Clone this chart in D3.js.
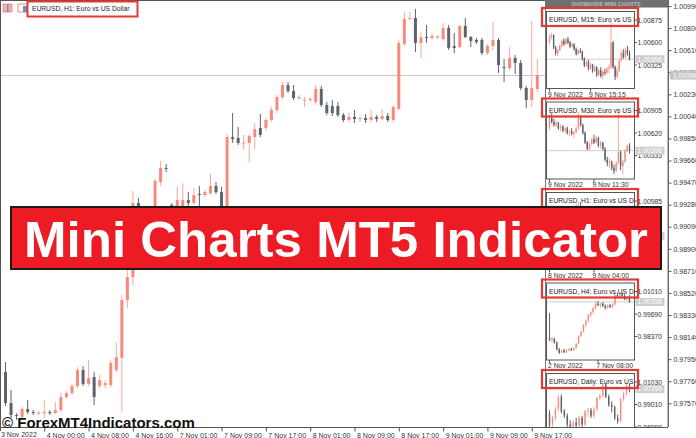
<!DOCTYPE html>
<html><head><meta charset="utf-8">
<script src="https://cdn.jsdelivr.net/npm/d3@7"></script>
<style>
html,body{margin:0;padding:0;background:#fff;overflow:hidden;}
svg{display:block;font-family:"Liberation Sans",Arial,sans-serif;}
</style></head><body>
<svg id="c" width="696" height="438"></svg>
<script>
// ---------- DATA ----------
const mainTitle = "EURUSD, H1:  Euro vs US Dollar";
const currentPrice = 1.00396;
// [open, high, low, close]
const mainCandles = [
[0.97839,0.97925,0.97546,0.97572],[0.97572,0.97684,0.97443,0.97469],[0.97469,0.97486,0.97426,0.97460],
[0.97452,0.97538,0.97434,0.97521],[0.97521,0.97598,0.97478,0.97495],[0.97495,0.97512,0.97469,0.97486],
[0.97486,0.97503,0.97469,0.97490],[0.97486,0.97598,0.97443,0.97495],[0.97495,0.97512,0.97469,0.97486],
[0.97486,0.97581,0.97478,0.97512],[0.97512,0.97658,0.97495,0.97624],[0.97624,0.97676,0.97607,0.97658],
[0.97658,0.97736,0.97641,0.97719],[0.97719,0.97882,0.97701,0.97856],[0.97856,0.97891,0.97719,0.97736],
[0.97736,0.97942,0.97719,0.97787],[0.97796,0.97839,0.97555,0.97624],[0.97719,0.97813,0.97701,0.97770],
[0.97727,0.97770,0.97701,0.97744],[0.97727,0.97942,0.97710,0.97917],[0.97856,0.98097,0.97839,0.97968],
[0.97960,0.98502,0.97495,0.98459],[0.98459,0.98717,0.98390,0.98657],[0.98657,0.99398,0.98588,0.99294],
[0.99294,0.99337,0.99131,0.99191],[0.99165,0.99251,0.99131,0.99217],[0.99199,0.99251,0.99148,0.99234],
[0.99217,0.99501,0.99182,0.99484],[0.99475,0.99656,0.99441,0.99596],[0.99596,0.99630,0.99561,0.99587],
[0.99277,0.99294,0.99148,0.99191],[0.99217,0.99432,0.99199,0.99320],[0.99234,0.99466,0.99217,0.99320],
[0.99320,0.99389,0.99268,0.99294],[0.99294,0.99423,0.99277,0.99363],[0.99372,0.99441,0.99260,0.99363],
[0.99363,0.99406,0.99346,0.99389],[0.99380,0.99544,0.99363,0.99441],[0.99441,0.99475,0.99372,0.99389],
[0.99389,0.99432,0.99191,0.99217],[0.99217,0.99888,0.99199,0.99862],[0.99862,1.00069,0.99811,0.99845],
[0.99854,0.99949,0.99794,0.99811],[0.99811,0.99880,0.99751,0.99815],[0.99811,0.99888,0.99647,0.99871],
[0.99862,0.99983,0.99759,0.99931],[0.99940,1.00060,0.99862,0.99880],[0.99940,1.00026,0.99923,1.00009],
[1.00009,1.00121,0.99992,1.00095],[1.00095,1.00224,1.00069,1.00207],[1.00207,1.00336,1.00190,1.00310],
[1.00310,1.00336,1.00241,1.00259],[1.00259,1.00310,1.00181,1.00198],[1.00198,1.00224,1.00181,1.00207],
[1.00181,1.00207,1.00121,1.00185],[1.00181,1.00207,1.00164,1.00190],[1.00164,1.00310,1.00138,1.00276],
[1.00276,1.00302,1.00121,1.00138],[1.00138,1.00164,1.00052,1.00069],[1.00129,1.00181,1.00043,1.00069],
[1.00129,1.00164,1.00035,1.00052],[1.00052,1.00069,0.99992,1.00009],[1.00009,1.00069,0.99992,1.00035],
[1.00035,1.00095,0.99983,1.00017],[1.00017,1.00043,0.99992,1.00026],[1.00026,1.00060,0.99983,1.00009],
[1.00009,1.00095,0.99992,1.00035],[1.00035,1.00052,0.99992,1.00017],[1.00017,1.00104,1.00009,1.00043],
[1.00043,1.00069,0.99992,1.00009],[1.00009,1.00138,0.99992,1.00121],[1.00104,1.00698,1.00095,1.00672],
[1.00663,1.00939,1.00646,1.00878],[1.00878,1.00939,1.00870,1.00887],[1.00887,1.00965,1.00594,1.00672],
[1.00672,1.00766,1.00543,1.00723],[1.00723,1.00827,1.00672,1.00715],[1.00715,1.00758,1.00698,1.00732],
[1.00723,1.00741,1.00706,1.00727],[1.00706,1.00844,1.00689,1.00801],[1.00801,1.00827,1.00612,1.00629],
[1.00646,1.00758,1.00586,1.00629],[1.00637,1.00827,1.00629,1.00818],[1.00818,1.00887,1.00715,1.00723],
[1.00723,1.00732,1.00637,1.00689],[1.00698,1.00715,1.00663,1.00680],[1.00698,1.00715,1.00568,1.00586],
[1.00586,1.00663,1.00568,1.00646],[1.00646,1.00853,1.00612,1.00698],[1.00698,1.00715,1.00414,1.00482],
[1.00465,1.00534,1.00336,1.00460],[1.00456,1.00637,1.00439,1.00543],[1.00543,1.00568,1.00405,1.00500],
[1.00500,1.00525,1.00267,1.00284],[1.00284,1.00302,1.00112,1.00181],[1.00181,1.00861,1.00121,1.00284],
[1.00276,1.00534,1.00250,1.00396]
];
const mainStartLabel = "3 Nov 2022";
const mainTickIndex = [7,15,23,31,39,47,55,63,71,79,87,95];
const mainTickLabels = ["4 Nov 00:00","4 Nov 08:00","4 Nov 16:00","7 Nov 01:00","7 Nov 09:00","7 Nov 17:00",
  "8 Nov 01:00","8 Nov 09:00","8 Nov 17:00","9 Nov 01:00","9 Nov 09:00","9 Nov 17:00"];
const mainPriceTicks = [1.00990,1.00800,1.00610,1.00420,1.00230,1.00040,0.99850,0.99660,0.99470,0.99280,
  0.99090,0.98900,0.98710,0.98520,0.98330,0.98140,0.97950,0.97760,0.97570];
const mainPriceDomain = [0.97366, 1.01042];

const m15Candles = [
[1.00600,1.00700,1.00580,1.00660],[1.00660,1.00720,1.00640,1.00690],[1.00690,1.00700,1.00520,1.00540],
[1.00540,1.00560,1.00440,1.00470],[1.00470,1.00520,1.00430,1.00500],[1.00500,1.00580,1.00490,1.00560],
[1.00560,1.00640,1.00540,1.00620],[1.00620,1.00650,1.00560,1.00580],[1.00580,1.00660,1.00570,1.00640],
[1.00640,1.00670,1.00580,1.00600],[1.00600,1.00620,1.00530,1.00550],[1.00550,1.00600,1.00540,1.00580],
[1.00580,1.00590,1.00500,1.00520],[1.00520,1.00540,1.00440,1.00460],[1.00460,1.00520,1.00450,1.00500],
[1.00500,1.00530,1.00470,1.00490],[1.00490,1.00500,1.00380,1.00400],[1.00400,1.00420,1.00300,1.00320],
[1.00320,1.00380,1.00300,1.00360],[1.00360,1.00390,1.00260,1.00280],[1.00280,1.00350,1.00270,1.00330],
[1.00330,1.00340,1.00230,1.00250],[1.00250,1.00320,1.00240,1.00300],[1.00300,1.00310,1.00180,1.00200],
[1.00200,1.00280,1.00190,1.00260],[1.00260,1.00300,1.00170,1.00190],[1.00190,1.00260,1.00150,1.00240],
[1.00240,1.00280,1.00200,1.00230],[1.00230,1.00300,1.00210,1.00280],[1.00280,1.00330,1.00220,1.00300],
[1.00300,1.00850,1.00280,1.00600],[1.00600,1.00620,1.00280,1.00300],[1.00300,1.00320,1.00140,1.00180],
[1.00180,1.00300,1.00160,1.00260],[1.00260,1.00400,1.00240,1.00380],[1.00380,1.00500,1.00360,1.00470],
[1.00470,1.00520,1.00400,1.00420],[1.00420,1.00540,1.00410,1.00510],[1.00510,1.00560,1.00440,1.00460],
[1.00460,1.00500,1.00380,1.00396]
];
const m30Candles = [
[1.00680,1.00860,1.00660,1.00840],[1.00840,1.00870,1.00740,1.00760],[1.00760,1.00800,1.00700,1.00720],
[1.00720,1.00780,1.00690,1.00750],[1.00750,1.00760,1.00660,1.00680],[1.00680,1.00730,1.00640,1.00700],
[1.00700,1.00720,1.00630,1.00650],[1.00650,1.00700,1.00620,1.00680],[1.00680,1.00700,1.00600,1.00620],
[1.00620,1.00660,1.00580,1.00640],[1.00640,1.00680,1.00590,1.00610],[1.00610,1.00640,1.00560,1.00630],
[1.00630,1.00700,1.00610,1.00680],[1.00680,1.00860,1.00660,1.00820],[1.00820,1.00840,1.00700,1.00720],
[1.00720,1.00740,1.00600,1.00620],[1.00620,1.00640,1.00480,1.00500],[1.00500,1.00520,1.00400,1.00420],
[1.00420,1.00500,1.00400,1.00480],[1.00480,1.00560,1.00460,1.00540],[1.00540,1.00600,1.00480,1.00500],
[1.00500,1.00580,1.00490,1.00560],[1.00560,1.00570,1.00440,1.00460],[1.00460,1.00520,1.00420,1.00500],
[1.00500,1.00510,1.00400,1.00420],[1.00420,1.00440,1.00260,1.00280],[1.00280,1.00320,1.00200,1.00240],
[1.00240,1.00300,1.00180,1.00260],[1.00260,1.00270,1.00150,1.00180],[1.00180,1.00220,1.00100,1.00140],
[1.00140,1.00260,1.00120,1.00240],[1.00240,1.00870,1.00220,1.00380],[1.00380,1.00400,1.00150,1.00200],
[1.00200,1.00280,1.00090,1.00260],[1.00260,1.00420,1.00240,1.00400],[1.00400,1.00480,1.00380,1.00460],
[1.00460,1.00490,1.00360,1.00396]
];
const h1MiniStart = 60; // H1 mini shows the latest bars of the main H1 series
const h4Candles = [
[0.98300,0.99750,0.98100,0.98150],[0.98150,0.98350,0.98000,0.98250],[0.98250,0.98300,0.97950,0.98000],
[0.98000,0.98100,0.97550,0.97600],[0.97600,0.97700,0.97350,0.97420],[0.97420,0.97600,0.97380,0.97550],
[0.97550,0.97650,0.97400,0.97450],[0.97450,0.97620,0.97400,0.97580],[0.97580,0.97680,0.97500,0.97620],
[0.97620,0.97700,0.97520,0.97560],[0.97560,0.97750,0.97520,0.97700],[0.97700,0.98000,0.97650,0.97950],
[0.97950,0.98450,0.97900,0.98400],[0.98400,0.98700,0.98350,0.98650],[0.98650,0.99100,0.98600,0.99050],
[0.99050,0.99350,0.98900,0.99300],[0.99300,0.99700,0.99200,0.99650],[0.99650,0.99850,0.99500,0.99800],
[0.99800,1.00100,0.99700,1.00050],[1.00050,1.00400,0.99950,1.00300],[1.00300,1.00450,1.00150,1.00200],
[1.00200,1.00350,1.00050,1.00300],[1.00300,1.00380,1.00100,1.00150],[1.00150,1.00250,0.99950,1.00050],
[1.00050,1.00250,1.00000,1.00200],[1.00200,1.00280,1.00050,1.00100],[1.00100,1.00300,1.00050,1.00250],
[1.00250,1.00900,1.00200,1.00800],[1.00800,1.00950,1.00650,1.00700],[1.00700,1.00900,1.00650,1.00850],
[1.00850,1.00950,1.00700,1.00750],[1.00750,1.00850,1.00500,1.00550],[1.00550,1.00750,1.00450,1.00700],
[1.00700,1.00800,1.00350,1.00396]
];
const d1Candles = [
[0.98200,0.98500,0.97000,0.97200],[0.97200,0.98000,0.97000,0.97800],[0.97800,0.98800,0.97600,0.98600],
[0.98600,0.99900,0.98400,0.99700],[0.99700,0.99900,0.98200,0.98400],[0.98400,0.98600,0.97800,0.98000],
[0.98000,0.98200,0.97000,0.97200],[0.97200,0.97600,0.96800,0.97000],[0.97000,0.97600,0.96800,0.97400],
[0.97400,0.97800,0.96900,0.97100],[0.97100,0.98000,0.96400,0.97800],[0.97800,0.98000,0.97000,0.97200],
[0.97200,0.98500,0.97100,0.98400],[0.98400,0.98700,0.97900,0.98500],[0.98500,0.98700,0.97800,0.98000],
[0.98000,0.98800,0.97800,0.98600],[0.98600,0.99700,0.98400,0.99600],[0.99600,1.00000,0.99400,0.99800],
[0.99800,1.00900,0.99600,1.00800],[1.00800,1.00900,0.99600,0.99700],[0.99700,0.99900,0.98800,0.99000],
[0.99000,0.99300,0.98300,0.98800],[0.98800,0.98900,0.97600,0.97800],[0.97800,0.98100,0.97300,0.97500],
[0.97500,0.99600,0.97400,0.99500],[0.99500,1.00200,0.99300,1.00000],[1.00000,1.00900,0.99800,1.00700],
[1.00700,1.00900,1.00100,1.00396]
];
const miniTitles = ["EURUSD, M15:  Euro vs US Dollar","EURUSD, M30:  Euro vs US Dollar",
  "EURUSD, H1:  Euro vs US Dollar","EURUSD, H4:  Euro vs US Dollar","EURUSD, Daily:  Euro vs US Dollar"];
const miniPriceTicks = [[1.00875,1.00600,1.00325],[1.00905,1.00620,1.00335],[1.00985,1.00610,1.00235],
  [1.01010,0.99690,0.98370],[1.01030,0.99010,0.96990]];
const miniDateLabels = [["9 Nov 2022","9 Nov 15:15"],["9 Nov 2022","9 Nov 11:30"],["8 Nov 2022","9 Nov 04:00"],
  ["2 Nov 2022","7 Nov 08:00"],["",""]];
const miniDateIndex = [0,20];
const bannerText = "Mini Charts MT5 Indicator";
const watermark = "\u00A9 ForexMT4Indicators.com";

// ---------- STYLE ----------
const BULL = "#f98a7b", BULLW = "#f7a89d", BEAR = "#5d646c";
const svg = d3.select("#c");
const fmt = d3.format(".5f");

function drawCandles(g, data, xs, ys, bw) {
  const up = d => d[3] >= d[0];
  g.append("g").selectAll("line").data(data).join("line")
    .attr("x1",(d,i)=>xs(i)).attr("x2",(d,i)=>xs(i))
    .attr("y1",d=>ys(d[1])).attr("y2",d=>ys(d[2]))
    .attr("stroke",d=>up(d)?BULLW:BEAR).attr("stroke-width",1);
  g.append("g").selectAll("rect").data(data).join("rect")
    .attr("x",(d,i)=>xs(i)-bw/2).attr("width",bw)
    .attr("y",d=>ys(Math.max(d[0],d[3])))
    .attr("height",d=>Math.max(1,Math.abs(ys(d[0])-ys(d[3]))))
    .attr("fill",d=>up(d)?BULL:BEAR);
}

// ---------- MAIN CHART ----------
const plotR = 668, plotB = 427;
const x = d3.scaleLinear().domain([0, mainCandles.length-1]).range([5.5, 537.3]);
const y = d3.scaleLinear().domain(mainPriceDomain).range([plotB, 0]);

svg.append("defs").append("clipPath").attr("id","mainClip")
  .append("rect").attr("x",1).attr("y",1).attr("width",plotR-1).attr("height",plotB-1);

const mg = svg.append("g").attr("clip-path","url(#mainClip)");
mg.append("line").attr("x1",1).attr("x2",plotR).attr("y1",Math.round(y(currentPrice))+0.5)
  .attr("y2",Math.round(y(currentPrice))+0.5).attr("stroke","#c8c8c8");
drawCandles(mg, mainCandles, x, y, 3);

// frame
svg.append("line").attr("x1",0.5).attr("x2",0.5).attr("y1",0).attr("y2",plotB).attr("stroke","#555");
svg.append("line").attr("x1",0).attr("x2",plotR).attr("y1",0.5).attr("y2",0.5).attr("stroke","#555");

// right price axis
const ya = svg.append("g").attr("transform",`translate(${plotR+0.5},0)`)
  .call(d3.axisRight(y).tickValues(mainPriceTicks).tickFormat(fmt).tickSize(3).tickPadding(2));
ya.select(".domain").attr("stroke","#555").attr("d",`M0,0V${plotB}`);
ya.selectAll(".tick line").attr("stroke","#555");
ya.selectAll("text").attr("font-size",7).attr("fill","#333").attr("font-family","Liberation Sans, Arial");

// bottom time axis
const xa = svg.append("g").attr("transform",`translate(0,${plotB+0.5})`)
  .call(d3.axisBottom(x).tickValues(mainTickIndex).tickFormat((d,i)=>mainTickLabels[i]).tickSize(4).tickPadding(2));
xa.select(".domain").attr("stroke","#555").attr("d",`M0,0H${plotR}`);
xa.selectAll(".tick line").attr("stroke","#555");
xa.selectAll("text").attr("font-size",7).attr("fill","#333").attr("text-anchor","start")
  .attr("dx",2).attr("font-family","Liberation Sans, Arial");
svg.append("text").attr("x",1).attr("y",plotB+9.5).attr("font-size",7).attr("fill","#333").text(mainStartLabel);
svg.append("line").attr("x1",0.5).attr("x2",0.5).attr("y1",plotB).attr("y2",plotB+4).attr("stroke","#555");

// current price tag
const cpY = y(currentPrice);
svg.append("rect").attr("x",670).attr("y",cpY-4.5).attr("width",26).attr("height",9).attr("fill","#c4c4c4");
svg.append("text").attr("x",673).attr("y",cpY+2.5).attr("font-size",7).attr("fill","#fff").text(fmt(currentPrice));

// title + icons
svg.append("rect").attr("x",3).attr("y",4).attr("width",9).attr("height",8).attr("fill","#f7b0a8").attr("stroke","#e06a5e").attr("stroke-width",0.6);
svg.append("rect").attr("x",7).attr("y",4).attr("width",1.5).attr("height",8).attr("fill","#6d8fc9");
svg.append("rect").attr("x",18).attr("y",4).attr("width",9).attr("height",8).attr("fill","#ffffff").attr("stroke","#e06a5e").attr("stroke-width",0.8);
svg.append("rect").attr("x",23).attr("y",6).attr("width",4).attr("height",6).attr("fill","#6d8fc9");
svg.append("text").attr("x",32).attr("y",11).attr("font-size",6.7).attr("fill","#222").text(mainTitle);
svg.append("rect").attr("x",27.5).attr("y",1.5).attr("width",110).attr("height",15)
  .attr("fill","none").attr("stroke","#e53a33").attr("stroke-width",2);

// ---------- MINI CHARTS PANEL ----------
svg.select("defs").append("clipPath").attr("id","panelClip")
  .append("rect").attr("x",540).attr("y",0).attr("width",130).attr("height",plotB);
const panel = svg.append("g").attr("clip-path","url(#panelClip)");
panel.append("rect").attr("x",545.5).attr("y",0.5).attr("width",plotR-545.5).attr("height",plotB)
  .attr("fill","#fff").attr("stroke","#777");
panel.append("rect").attr("x",545.5).attr("y",0.5).attr("width",plotR-545.5).attr("height",7).attr("fill","#6f6f6f");
panel.append("text").attr("x",606).attr("y",6.3).attr("text-anchor","middle").attr("font-size",5.5)
  .attr("fill","#bdbdbd").attr("font-weight","bold").text("SHOW/HIDE MINI CHARTS");

const miniTops = [7, 97.5, 188, 278.5, 369];
const miniSets = [m15Candles, m30Candles, mainCandles.slice(h1MiniStart), h4Candles, d1Candles];

miniTops.forEach((T, k) => {
  const data = miniSets[k], ticks = miniPriceTicks[k];
  const fx0 = 546.5, fx1 = 634.5, fy0 = T + 4.5, fy1 = T + 81.5;
  const xs = d3.scaleLinear().domain([0, data.length-1]).range([549.5, 629.5]);
  const ys = d3.scaleLinear().domain([ticks[2], ticks[0]]).range([T+58, T+13]);
  const g = panel.append("g");
  g.append("rect").attr("x",fx0).attr("y",fy0).attr("width",fx1-fx0).attr("height",fy1-fy0)
    .attr("fill","#fff").attr("stroke","#555");
  const cid = "mclip"+k;
  svg.select("defs").append("clipPath").attr("id",cid)
    .append("rect").attr("x",fx0+0.5).attr("y",fy0+0.5).attr("width",fx1-fx0-1).attr("height",fy1-fy0-1);
  const inner = g.append("g").attr("clip-path",`url(#${cid})`);
  inner.append("line").attr("x1",fx0).attr("x2",fx1).attr("y1",ys(currentPrice)).attr("y2",ys(currentPrice))
    .attr("stroke","#cfcfcf");
  drawCandles(inner, data, xs, ys, 1.4);
  inner.append("text").attr("x",549).attr("y",T+15).attr("font-size",6.7).attr("fill","#222").text(miniTitles[k]);
  // price labels
  ticks.forEach(v => {
    g.append("line").attr("x1",fx1).attr("x2",fx1+2.5).attr("y1",ys(v)).attr("y2",ys(v)).attr("stroke","#555");
    g.append("text").attr("x",fx1+3).attr("y",ys(v)+2.5).attr("font-size",6.8).attr("fill","#333").text(fmt(v));
  });
  const cy = ys(currentPrice);
  g.append("rect").attr("x",fx1+1).attr("y",cy-4).attr("width",29).attr("height",8).attr("fill","#cdcdcd");
  g.append("text").attr("x",fx1+3).attr("y",cy+2.4).attr("font-size",6.8).attr("fill","#fff").text(fmt(currentPrice));
  // dates
  miniDateIndex.forEach((di, j) => {
    if (!miniDateLabels[k][j]) return;
    g.append("line").attr("x1",xs(di)).attr("x2",xs(di)).attr("y1",fy1).attr("y2",fy1+3).attr("stroke","#555");
    g.append("text").attr("x",xs(di)-1.5).attr("y",fy1+8).attr("font-size",6.8).attr("fill","#333").text(miniDateLabels[k][j]);
  });
  // red highlight
  g.append("rect").attr("x",542).attr("y",T+1).attr("width",96).attr("height",18)
    .attr("fill","none").attr("stroke","#e53a33").attr("stroke-width",2.2);
});

// ---------- BANNER ----------
svg.append("rect").attr("x",11).attr("y",207).attr("width",650).attr("height",62)
  .attr("fill","#ed1c24").attr("stroke","#1a1a1a").attr("stroke-width",2);
svg.append("text").attr("x",336).attr("y",257).attr("text-anchor","middle")
  .attr("font-size",50).attr("font-weight","bold").attr("fill","#fff")
  .attr("textLength",624).attr("lengthAdjust","spacingAndGlyphs").text(bannerText);

// ---------- WATERMARK ----------
svg.append("text").attr("x",2).attr("y",428).attr("font-size",15).attr("font-weight","bold")
  .attr("fill","#111").text(watermark);
</script>
</body></html>
